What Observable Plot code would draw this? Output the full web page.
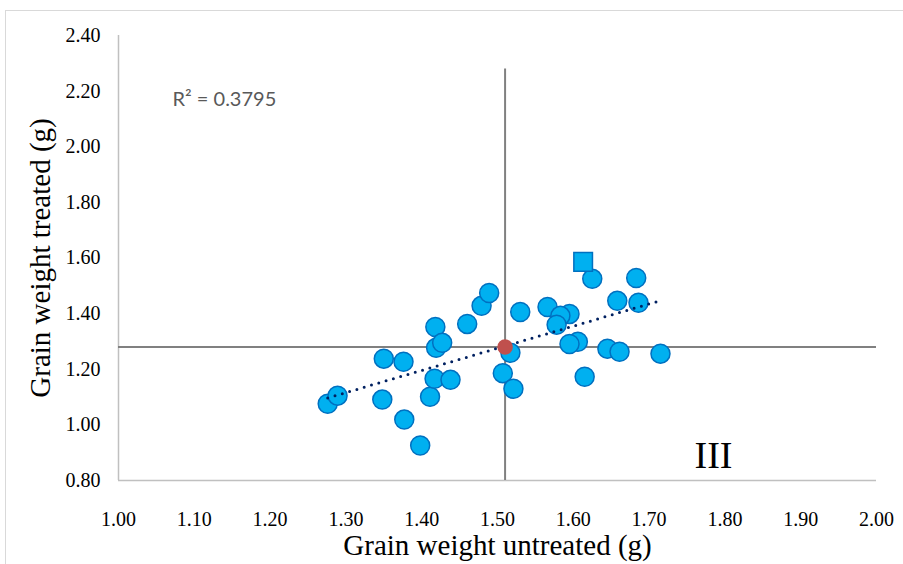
<!DOCTYPE html>
<html>
<head>
<meta charset="utf-8">
<script src="https://cdn.jsdelivr.net/npm/d3@7"></script>
<script src="https://cdn.jsdelivr.net/npm/@observablehq/plot@0.6"></script>
<style>
  html, body { margin: 0; padding: 0; background: #fff; }
  #wrap { position: relative; width: 903px; height: 564px; overflow: hidden; }
  #border { position: absolute; left: 5px; top: 10px; width: 920px; height: 600px; border: 1.5px solid #d9d9d9; box-sizing: border-box; pointer-events: none; }
  svg { display: block; }
</style>
</head>
<body>
<div id="wrap"><div id="border"></div></div>
<script>
// Circle genotypes: untreated (x) vs treated (y) grain weight
const untreated = [1.276, 1.289, 1.350, 1.376, 1.348, 1.377, 1.398, 1.411, 1.418, 1.419, 1.427, 1.417, 1.438, 1.460, 1.479, 1.489, 1.517, 1.507, 1.521, 1.530,
                   1.566, 1.595, 1.583, 1.578, 1.625, 1.658, 1.683, 1.686, 1.606, 1.595, 1.645, 1.661, 1.715, 1.615];
const treated   = [1.076, 1.105, 1.238, 1.227, 1.091, 1.019, 0.926, 1.101, 1.352, 1.277, 1.295, 1.166, 1.162, 1.363, 1.428, 1.474, 1.259, 1.186, 1.130, 1.406,
                   1.424, 1.399, 1.392, 1.360, 1.525, 1.446, 1.528, 1.439, 1.299, 1.291, 1.274, 1.263, 1.256, 1.173];
// Highlighted genotype (square)
const squareX = [1.613];
const squareY = [1.586];
// Mean point / quadrant lines
const meanX = 1.51;
const meanY = 1.28;
const meanLineTop = 2.28;
const xTicks = [1.0, 1.1, 1.2, 1.3, 1.4, 1.5, 1.6, 1.7, 1.8, 1.9, 2.0];
const yTicks = [0.8, 1.0, 1.2, 1.4, 1.6, 1.8, 2.0, 2.2, 2.4];
const r2Label = "R² = 0.3795";
const quadrantLabel = "III";

const circles = untreated.map((x, i) => ({x, y: treated[i]}));
const squares = squareX.map((x, i) => ({x, y: squareY[i]}));
const all = circles.concat(squares);

const serif = "Liberation Serif";
const fmt = d3.format(".2f");

const chart = Plot.plot({
  width: 903,
  height: 564,
  marginLeft: 118,
  marginRight: 27,
  marginTop: 35,
  marginBottom: 84,
  style: { fontFamily: serif, background: "transparent", overflow: "visible" },
  x: { domain: [1, 2], axis: null },
  y: { domain: [0.8, 2.4], axis: null },
  marks: [
    Plot.ruleX([1], { y1: 0.8, y2: 2.4, stroke: "#c0c0c0", strokeWidth: 1.5 }),
    Plot.ruleY([0.8], { x1: 1, x2: 2, stroke: "#c0c0c0", strokeWidth: 1.5 }),
    Plot.ruleY([meanY], { x1: 1, x2: 2, stroke: "#808080", strokeWidth: 2 }),
    Plot.ruleX([meanX], { y1: 0.8, y2: meanLineTop, stroke: "#808080", strokeWidth: 2 }),
    Plot.text(xTicks, { x: d => d, y: 0.8, text: d => fmt(d), dy: 39, fontSize: 20, fill: "#000", fontFamily: serif, textAnchor: "middle", lineAnchor: "middle" }),
    Plot.text(yTicks, { x: 1, y: d => d, text: d => fmt(d), dx: -18, fontSize: 20, fill: "#000", fontFamily: serif, textAnchor: "end", lineAnchor: "middle" }),
    Plot.dot(circles, { x: "x", y: "y", r: 9.5, fill: "#00b0f0", stroke: "#0070c0", strokeWidth: 1.5 }),
    Plot.dot(squares, { x: "x", y: "y", r: 10.5, symbol: "square", fill: "#00b0f0", stroke: "#0070c0", strokeWidth: 1.5 }),
    Plot.linearRegressionY(all, { x: "x", y: "y", ci: 0, stroke: "#002060", strokeWidth: 3, strokeDasharray: "0 7.6", strokeLinecap: "round" }),
    Plot.dot([{x: meanX, y: meanY}], { x: "x", y: "y", r: 7, fill: "#c0504d", stroke: "#c0504d" }),
    Plot.text([r2Label], { frameAnchor: "top-left", dx: 54, dy: 56, fontSize: 20, fill: "#595959", fontFamily: "Lato", textAnchor: "start", lineAnchor: "top" }),
    Plot.text([quadrantLabel], { frameAnchor: "bottom-right", dx: -163, dy: -25, fontSize: 38, fill: "#000", fontFamily: serif, textAnchor: "middle", lineAnchor: "middle" }),
    Plot.text(["Grain weight untreated (g)"], { frameAnchor: "bottom", dy: 65, fontSize: 29, fill: "#000", fontFamily: serif, textAnchor: "middle", lineAnchor: "middle" }),
    Plot.text(["Grain weight treated (g)"], { frameAnchor: "left", dx: -78, dy: 0, rotate: -90, fontSize: 29, fill: "#000", fontFamily: serif, textAnchor: "middle", lineAnchor: "middle" })
  ]
});
document.getElementById("wrap").prepend(chart);
</script>
</body>
</html>
